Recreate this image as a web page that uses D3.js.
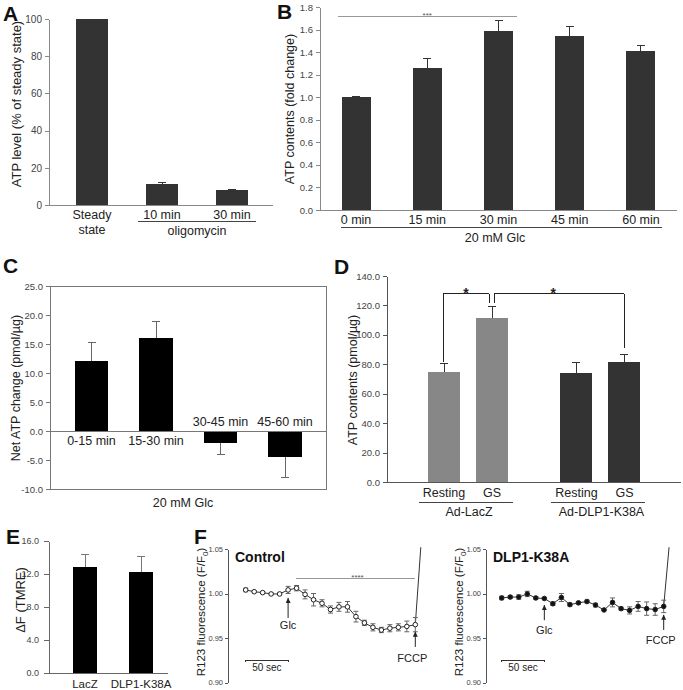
<!DOCTYPE html>
<html><head><meta charset="utf-8">
<script src="https://cdn.jsdelivr.net/npm/d3@7"></script>
<style>body{margin:0;background:#fff}svg{display:block}</style>
</head><body>
<script>
// ---------- DATA ----------
// Panel A
const aCats = ["Steady state","10 min","30 min"];
const aCatLines = [["Steady","state"],["10 min"],["30 min"]];
const aVals = [100, 11.3, 7.9];
const aErr = [0, 0.9, 0.6];
const aTicks = [0,20,40,60,80,100];
const aGroupLabel = "oligomycin";
// Panel B
const bCats = ["0 min","15 min","30 min","45 min","60 min"];
const bVals = [1.0, 1.256, 1.587, 1.543, 1.41];
const bErr = [0.005, 0.085, 0.09, 0.082, 0.047];
const bTicks = [0,0.2,0.4,0.6,0.8,1.0,1.2,1.4,1.6,1.8];
const bGroupLabel = "20 mM Glc";
// Panel C
const cCats = ["0-15 min","15-30 min","30-45 min","45-60 min"];
const cVals = [12.0, 16.1, -2.0, -4.4];
const cErr = [3.2, 2.7, 2.1, 3.6];
const cTicks = [-10,-5,0,5,10,15,20,25];
// Panel D
const dGroups = ["Ad-LacZ","Ad-DLP1-K38A"];
const dConds = ["Resting","GS"];
const dVals = [[74.8, 111.5],[74.1, 81.7]];
const dErr = [[5.4, 7.5],[6.8, 5.2]];
const dColors = ["#878787","#333333"];
const dTicks = [0,20,40,60,80,100,120,140];
// Panel E
const eCats = ["LacZ","DLP1-K38A"];
const eVals = [12.8, 12.3];
const eErr = [1.6, 1.8];
const eTicks = [0,4,8,12,16];
// Panel F
const fTicks = [0.90,0.95,1.00,1.05];
const ctrlTime = [0,10,20,30,40,50,60,70,80,90,100,110,120,130,140,150,160,170,180,190,200];
const ctrlVals = [1.004,1.002,1.001,0.9995,0.9995,1.004,1.006,0.999,0.993,0.989,0.982,0.985,0.985,0.974,0.967,0.962,0.959,0.961,0.962,0.963,0.965];
const ctrlErr  = [0.002,0.001,0.001,0.001,0.001,0.004,0.003,0.005,0.007,0.004,0.004,0.005,0.006,0.006,0.003,0.004,0.003,0.004,0.004,0.006,0.008];
const ctrlRiseTime = [200, 206.5];
const ctrlRiseVals = [0.965, 1.052];
const dlpTime = [0,10,20,30,40,50,60,70,80,90,100,110,120,130,140,150,160,170,180,190];
const dlpVals = [0.995,0.996,0.996,0.9995,0.995,0.9944,0.9885,0.9955,0.9875,0.9895,0.991,0.987,0.9815,0.99,0.983,0.981,0.9855,0.983,0.982,0.9855];
const dlpErr  = [0.002,0.0015,0.0025,0.003,0.0015,0.001,0.002,0.0045,0.0015,0.0015,0.0015,0.002,0.0005,0.005,0.0015,0.004,0.0055,0.0075,0.0065,0.007];
const dlpRiseTime = [190, 196.3];
const dlpRiseVals = [0.9855, 1.052];

// ---------- HELPERS ----------
const FONT = '"Liberation Sans", Arial, Helvetica, sans-serif';
const svg = d3.select("body").append("svg").attr("width",683).attr("height",690).style("font-family",FONT);
svg.append("rect").attr("width",683).attr("height",690).attr("fill","#fff");

function txt(x,y,s,o={}){
  const t = svg.append("text").attr("x",x).attr("y",y).text(s)
    .attr("font-size",o.fs||12).attr("fill",o.fill||"#222").attr("text-anchor",o.anchor||"middle");
  if(o.bold) t.attr("font-weight","bold");
  return t;
}
function line(x1,y1,x2,y2,c,w){
  return svg.append("line").attr("x1",x1).attr("y1",y1).attr("x2",x2).attr("y2",y2)
    .attr("stroke",c||"#777").attr("stroke-width",w||1).attr("shape-rendering","crispEdges");
}
function errBar(x,y0,y1,cap,c){ line(x,y0,x,y1,c); line(x-cap/2,y1,x+cap/2,y1,c); }
function leftAxis(scale,x,ticks,fmt,o={}){
  const g = svg.append("g").attr("transform",`translate(${x},0)`)
    .call(d3.axisLeft(scale).tickValues(ticks).tickFormat(fmt).tickSize(o.tick||4).tickSizeOuter(0).tickPadding(o.pad||3));
  g.attr("font-family",FONT);
  g.select(".domain").attr("stroke",o.color||"#777").attr("shape-rendering","crispEdges");
  g.selectAll(".tick line").attr("stroke",o.color||"#777").attr("shape-rendering","crispEdges");
  g.selectAll(".tick text").attr("font-size",o.fs||10).attr("fill",o.tc||"#444");
  return g;
}
function yLabel(s,x,y,fs){
  return svg.append("text").attr("transform",`translate(${x},${y}) rotate(-90)`)
    .attr("text-anchor","middle").attr("font-size",fs||12.5).attr("fill","#222").text(s);
}
function letter(s,x,y){ txt(x,y,s,{fs:21,bold:true,anchor:"start",fill:"#111"}); }
const f1 = d => d.toFixed(1);

// ---------- PANEL A ----------
letter("A",3,21);
const xA = d3.scaleBand().domain(aCats).range([57,267]).paddingInner(0.53).paddingOuter(0.265);
const yA = d3.scaleLinear().domain([0,100]).range([205,19]);
svg.append("g").selectAll("rect").data(aCats).join("rect")
  .attr("x",d=>xA(d)).attr("width",xA.bandwidth())
  .attr("y",(d,i)=>yA(aVals[i])).attr("height",(d,i)=>yA(0)-yA(aVals[i]))
  .attr("fill","#333").attr("shape-rendering","crispEdges");
aCats.forEach((c,i)=>{ if(aErr[i]>0) errBar(xA(c)+xA.bandwidth()/2, yA(aVals[i]), yA(aVals[i]+aErr[i]), 8, "#333"); });
leftAxis(yA,49,aTicks,d3.format("d"),{fs:10,tick:4,pad:3,color:"#888"});
line(49,yA(0),273,yA(0),"#888");
aCatLines.forEach((ls,i)=>ls.forEach((s,j)=>txt(xA(aCats[i])+xA.bandwidth()/2, 219+j*15, s,{fs:12.5})));
{ const x1 = xA(aCats[1])-8, x2 = xA(aCats[2])+xA.bandwidth()+8;
  line(x1,221,x2,221,"#444"); txt((x1+x2)/2,235,aGroupLabel,{fs:12.5}); }
yLabel("ATP level (% of steady state)",21,104,13);

// ---------- PANEL B ----------
letter("B",277,19);
const xB = d3.scaleBand().domain(bCats).range([320.4,676.6]).paddingInner(0.593).paddingOuter(0.2965);
const yB = d3.scaleLinear().domain([0,1.8]).range([210,7]);
svg.append("g").selectAll("rect").data(bCats).join("rect")
  .attr("x",d=>xB(d)).attr("width",xB.bandwidth())
  .attr("y",(d,i)=>yB(bVals[i])).attr("height",(d,i)=>yB(0)-yB(bVals[i]))
  .attr("fill","#333").attr("shape-rendering","crispEdges");
bCats.forEach((c,i)=>errBar(xB(c)+xB.bandwidth()/2, yB(bVals[i]), yB(bVals[i]+bErr[i]), 8, "#333"));
leftAxis(yB,320,bTicks,f1,{fs:9.5,tick:4,pad:3,color:"#888"});
line(320,yB(0),677,yB(0),"#888");
bCats.forEach(c=>txt(xB(c)+xB.bandwidth()/2,224,c,{fs:12.5}));
{ const x1 = xB(bCats[0])-1, x2 = xB(bCats[4])+xB.bandwidth()+7;
  line(x1,227,x2,227,"#444"); txt(495,242,bGroupLabel,{fs:12.5}); }
{ const x1 = xB(bCats[0])-4, x2 = xB(bCats[2])+xB.bandwidth()+4, y = yB(1.72);
  line(x1,y,x2,y,"#999"); txt((x1+x2)/2,y+1.5,"***",{fs:8,fill:"#555"}); }
yLabel("ATP contents (fold change)",294,109,12.5);

// ---------- PANEL C ----------
letter("C",3,273);
const xC = d3.scaleBand().domain(cCats).range([59.25,317.25]).paddingInner(0.488).paddingOuter(0.244);
const yC = d3.scaleLinear().domain([-10,25]).range([489,286]);
svg.append("rect").attr("x",50).attr("y",yC(25)).attr("width",276).attr("height",yC(-10)-yC(25))
  .attr("fill","none").attr("stroke","#777").attr("shape-rendering","crispEdges");
svg.append("g").selectAll("rect").data(cCats).join("rect")
  .attr("x",d=>xC(d)).attr("width",xC.bandwidth())
  .attr("y",(d,i)=>yC(Math.max(0,cVals[i]))).attr("height",(d,i)=>Math.abs(yC(cVals[i])-yC(0)))
  .attr("fill","#000").attr("shape-rendering","crispEdges");
cCats.forEach((c,i)=>{ const s = Math.sign(cVals[i]);
  errBar(xC(c)+xC.bandwidth()/2, yC(cVals[i]), yC(cVals[i]+s*cErr[i]), 8, "#666"); });
line(50,yC(0),326,yC(0),"#777");
leftAxis(yC,50,cTicks,f1,{fs:9.5,tick:4,pad:3,color:"#777"});
cCats.forEach((c,i)=>txt(xC(c)+xC.bandwidth()/2, cVals[i]>=0 ? yC(0)+14 : yC(0)-5, c,{fs:12.5}));
txt(183,507,"20 mM Glc",{fs:12.5});
yLabel("Net ATP change (pmol/µg)",20,388,12.5);

// ---------- PANEL D ----------
letter("D",334,274);
const xDg = d3.scaleBand().domain(dGroups).range([386.9,681.6]).paddingInner(0.2755).paddingOuter(0.25);
const xDc = d3.scaleBand().domain(dConds).range([0,xDg.bandwidth()]).paddingInner(1/3).paddingOuter(1/6);
const yD = d3.scaleLinear().domain([0,140]).range([482,276]);
const dcx = (g,c) => xDg(dGroups[g]) + xDc(dConds[c]) + xDc.bandwidth()/2;
dGroups.forEach((g,gi)=>{
  svg.append("g").selectAll("rect").data(dConds).join("rect")
    .attr("x",c=>xDg(g)+xDc(c)).attr("width",xDc.bandwidth())
    .attr("y",(c,ci)=>yD(dVals[gi][ci])).attr("height",(c,ci)=>yD(0)-yD(dVals[gi][ci]))
    .attr("fill",dColors[gi]).attr("shape-rendering","crispEdges");
  dConds.forEach((c,ci)=>errBar(dcx(gi,ci), yD(dVals[gi][ci]), yD(dVals[gi][ci]+dErr[gi][ci]), 8, "#333"));
});
leftAxis(yD,387,dTicks,f1,{fs:9.5,tick:4,pad:3,color:"#555"});
line(387,yD(0),681,yD(0),"#555");
dGroups.forEach((g,gi)=>{
  dConds.forEach((c,ci)=>txt(dcx(gi,ci),497,c,{fs:12.5}));
  const cx = xDg(g)+xDg.bandwidth()/2;
  line(cx-49,502,cx+45,502,"#444");
  txt(cx+1,516,g,{fs:12.5});
});
// significance brackets
{ const top = yD(127.8);
  const xa = dcx(0,0)-1, xb = dcx(0,1)-3, xc = dcx(0,1)+2, xd = dcx(1,1);
  line(xa,top,xb,top,"#222"); line(xa,top,xa,yD(81.6),"#222"); line(xb,top,xb,yD(121.7),"#222");
  line(xc,top,xd,top,"#222"); line(xc,top,xc,yD(121.7),"#222"); line(xd,top,xd,yD(91),"#222");
  txt((xa+xb)/2,top+4,"*",{fs:14,bold:true});
  txt((xc+xd)/2-6,top+4,"*",{fs:14,bold:true});
}
yLabel("ATP contents (pmol/µg)",357,380,12.5);

// ---------- PANEL E ----------
letter("E",6,544);
const xE = d3.scaleBand().domain(eCats).range([57,169]).paddingInner(0.571).paddingOuter(0.2855);
const yE = d3.scaleLinear().domain([0,16]).range([673,541]);
svg.append("g").selectAll("rect").data(eCats).join("rect")
  .attr("x",d=>xE(d)).attr("width",xE.bandwidth())
  .attr("y",(d,i)=>yE(eVals[i])).attr("height",(d,i)=>yE(0)-yE(eVals[i]))
  .attr("fill","#000").attr("shape-rendering","crispEdges");
eCats.forEach((c,i)=>errBar(xE(c)+xE.bandwidth()/2, yE(eVals[i]), yE(eVals[i]+eErr[i]), 8, "#777"));
leftAxis(yE,49,eTicks,f1,{fs:9,tick:5,pad:5,color:"#666"});
line(49,yE(0),168,yE(0),"#666");
eCats.forEach(c=>txt(xE(c)+xE.bandwidth()/2,688,c,{fs:11.5}));
yLabel("ΔF (TMRE)",25,600,13);

// ---------- PANEL F ----------
letter("F",194,544);
const yF = d3.scaleLinear().domain([0.90,1.05]).range([682.5,549]);
svg.append("defs").append("marker").attr("id","arr").attr("viewBox","0 0 10 10")
  .attr("refX",10).attr("refY",5).attr("markerUnits","userSpaceOnUse")
  .attr("markerWidth",6).attr("markerHeight",5).attr("orient","auto")
  .append("path").attr("d","M0,0 L10,5 L0,10 Z").attr("fill","#222");
function arrow(x,v0,v1){
  svg.append("line").attr("x1",x).attr("x2",x).attr("y1",yF(v0)).attr("y2",yF(v1))
    .attr("stroke","#222").attr("stroke-width",1).attr("marker-end","url(#arr)");
}
function tracePanel(o){
  const x = d3.scaleLinear().domain(o.domain).range(o.range);
  leftAxis(yF,o.axisX,fTicks,d3.format(".2f"),{fs:7.5,tick:3,pad:2,color:"#555"});
  txt(o.axisX+7,562,o.title,{fs:14,bold:true,anchor:"start",fill:"#111"});
  // rise after FCCP
  svg.append("path").datum(o.riseT.map((t,i)=>[t,o.riseV[i]]))
    .attr("d",d3.line().x(d=>x(d[0])).y(d=>yF(d[1]))).attr("fill","none").attr("stroke","#333");
  // connecting line
  svg.append("path").datum(o.t.map((t,i)=>[t,o.v[i]]))
    .attr("d",d3.line().x(d=>x(d[0])).y(d=>yF(d[1]))).attr("fill","none").attr("stroke","#333");
  // error bars
  o.t.forEach((t,i)=>{ const cx = x(t);
    svg.append("line").attr("x1",cx).attr("x2",cx).attr("y1",yF(o.v[i]-o.e[i])).attr("y2",yF(o.v[i]+o.e[i])).attr("stroke","#666");
    [o.v[i]-o.e[i],o.v[i]+o.e[i]].forEach(v=>svg.append("line").attr("x1",cx-2.5).attr("x2",cx+2.5).attr("y1",yF(v)).attr("y2",yF(v)).attr("stroke","#666"));
  });
  // markers
  svg.append("g").selectAll("circle").data(o.t).join("circle")
    .attr("cx",t=>x(t)).attr("cy",(t,i)=>yF(o.v[i])).attr("r",2.3)
    .attr("fill",o.open?"#fff":"#111").attr("stroke","#222").attr("stroke-width",1);
  // scale bar
  const sy = yF(0.925);
  line(x(0),sy,x(50),sy,"#333"); line(x(0),sy,x(0),sy+2,"#333"); line(x(50),sy,x(50),sy+2,"#333");
  txt(x(25),yF(0.913),"50 sec",{fs:10});
  // Glc & FCCP arrows
  arrow(x(50),o.glcA[0],o.glcA[1]); txt(x(50),yF(o.glcA[2]),"Glc",{fs:11});
  arrow(x(o.fccpT),o.fccpA[0],o.fccpA[1]); txt(x(o.fccpT)-3,yF(o.fccpA[2]),"FCCP",{fs:11});
  const yl = svg.append("text").attr("transform",`translate(${o.labelX},612) rotate(-90)`)
    .attr("text-anchor","middle").attr("font-size",11.5).attr("fill","#222");
  yl.append("tspan").text("R123 fluorescence (F/F");
  yl.append("tspan").attr("font-size",8).attr("dy",3).text("0");
  yl.append("tspan").attr("dy",-3).text(")");
  return x;
}
const xFc = tracePanel({domain:[0,200],range:[245.7,415.3],axisX:228,title:"Control",
  t:ctrlTime,v:ctrlVals,e:ctrlErr,riseT:ctrlRiseTime,riseV:ctrlRiseVals,open:true,
  glcA:[0.9725,0.995,0.960],fccpT:200,fccpA:[0.940,0.957,0.923],labelX:205});
{ const y = yF(1.0163); line(xFc(59),y,xFc(200),y,"#999"); txt((xFc(59)+xFc(200))/2+2,y+1.5,"****",{fs:8,fill:"#555"}); }
tracePanel({domain:[0,190],range:[501.7,663.7],axisX:486,title:"DLP1-K38A",
  t:dlpTime,v:dlpVals,e:dlpErr,riseT:dlpRiseTime,riseV:dlpRiseVals,open:false,
  glcA:[0.970,0.987,0.9545],fccpT:190,fccpA:[0.959,0.976,0.943],labelX:463});
</script>
</body></html>
